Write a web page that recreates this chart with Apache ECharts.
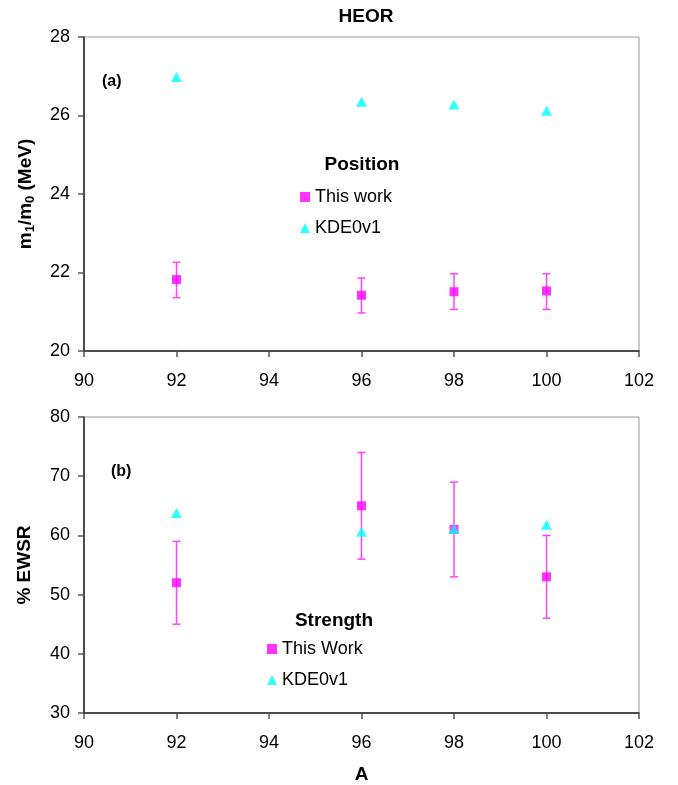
<!DOCTYPE html>
<html>
<head>
<meta charset="utf-8">
<script src="https://cdn.jsdelivr.net/npm/echarts@6/dist/echarts.min.js"></script>
<style>
  html, body { margin: 0; padding: 0; background: #fff; }
  #chart { width: 678px; height: 785px; }
</style>
</head>
<body>
<div id="chart"></div>
<script>
// mass numbers
var massA = [92, 96, 98, 100];
var xTicks = [90, 92, 94, 96, 98, 100, 102];

// (a) position m1/m0 (MeV)
var posThis = [21.82, 21.42, 21.51, 21.53];
var posLo = [21.36, 20.97, 21.06, 21.06];
var posHi = [22.26, 21.86, 21.97, 21.97];
var posKde = [26.98, 26.35, 26.28, 26.12];

// (b) strength % EWSR
var strThis = [52, 65, 61, 53];
var strLo = [45, 56, 53, 46];
var strHi = [59, 74, 69, 60];
var strKde = [63.8, 60.6, 61.1, 61.8];

var FONT = "Liberation Sans, Arial, sans-serif";
var MAG = "#ff00ff";
var CYAN = "#00ffff";

function pairs(xs, ys) {
  return xs.map(function (x, i) { return [x, ys[i]]; });
}
function errData(xs, lo, hi) {
  return xs.map(function (x, i) { return [x, lo[i], hi[i]]; });
}

function errorBars(params, api) {
  var x = api.value(0);
  var lo = api.coord([x, api.value(1)]);
  var hi = api.coord([x, api.value(2)]);
  var cap = 4;
  var style = { stroke: "#ff44ff", lineWidth: 1.5 };
  return {
    type: "group",
    children: [
      { type: "line", shape: { x1: lo[0], y1: lo[1], x2: hi[0], y2: hi[1] }, style: style },
      { type: "line", shape: { x1: lo[0] - cap, y1: lo[1], x2: lo[0] + cap, y2: lo[1] }, style: style },
      { type: "line", shape: { x1: hi[0] - cap, y1: hi[1], x2: hi[0] + cap, y2: hi[1] }, style: style }
    ]
  };
}

function xAxisFor(idx, showName) {
  return {
    type: "value",
    gridIndex: idx,
    min: 90, max: 102, interval: 2,
    splitLine: { show: false },
    axisLine: { onZero: false, lineStyle: { color: "#222", width: 1.5 } },
    axisTick: { inside: false, length: 6, lineStyle: { color: "#555", width: 1.5 } },
    axisLabel: { color: "#000", fontSize: 18, fontFamily: FONT, margin: 21 },
    name: showName ? "A" : "",
    nameLocation: "middle",
    nameGap: 52,
    nameTextStyle: { color: "#000", fontSize: 19, fontWeight: "bold", fontFamily: FONT }
  };
}

var chart = echarts.init(document.getElementById("chart"));

var option = {
  animation: false,
  backgroundColor: "#fff",
  title: [
    { text: "HEOR", left: 361, top: 2, textAlign: "center",
      textStyle: { fontSize: 19, fontWeight: "bold", fontFamily: FONT, color: "#000" } },
    { text: "Position", left: 357, top: 150, textAlign: "center",
      textStyle: { fontSize: 19, fontWeight: "bold", fontFamily: FONT, color: "#000" } },
    { text: "Strength", left: 329, top: 606, textAlign: "center",
      textStyle: { fontSize: 19, fontWeight: "bold", fontFamily: FONT, color: "#000" } },
    { text: "(a)", left: 97, top: 69,
      textStyle: { fontSize: 16, fontWeight: "bold", fontFamily: FONT, color: "#000" } },
    { text: "(b)", left: 106, top: 459,
      textStyle: { fontSize: 16, fontWeight: "bold", fontFamily: FONT, color: "#000" } }
  ],
  legend: [
    {
      left: 295, top: 183, orient: "vertical", itemGap: 13,
      itemWidth: 10, itemHeight: 10,
      textStyle: { fontSize: 18, fontFamily: FONT, color: "#000" },
      data: [{ name: "This work", icon: "rect" }, { name: "KDE0v1", icon: "triangle" }]
    },
    {
      left: 262, top: 635, orient: "vertical", itemGap: 13,
      itemWidth: 10, itemHeight: 10,
      textStyle: { fontSize: 18, fontFamily: FONT, color: "#000" },
      data: [{ name: "This Work", icon: "rect" }, { name: "KDE0v1", icon: "triangle" }]
    }
  ],
  grid: [
    { left: 84, right: 39, top: 37, height: 314, show: true, borderColor: "#999", borderWidth: 1 },
    { left: 84, right: 39, top: 417, height: 304, show: true, borderColor: "#999", borderWidth: 1 }
  ],
  xAxis: [xAxisFor(0, false), xAxisFor(1, true)],
  yAxis: [
    {
      type: "value", gridIndex: 0, min: 20, max: 28, interval: 2,
      splitLine: { show: false },
      axisLine: { show: true, lineStyle: { color: "#222", width: 1.5 } },
      axisTick: { show: true, length: 6, lineStyle: { color: "#555", width: 1.5 } },
      axisLabel: { color: "#000", fontSize: 18, fontFamily: FONT, margin: 14 },
      name: "{b|m}{s|1}{b|/m}{s|0}{b| (MeV)}",
      nameLocation: "middle", nameGap: 47, nameRotate: 90,
      nameTextStyle: {
        rich: {
          b: { fontSize: 19, fontWeight: "bold", fontFamily: FONT, color: "#000", lineHeight: 22 },
          s: { fontSize: 13, fontWeight: "bold", fontFamily: FONT, color: "#000", lineHeight: 22, verticalAlign: "bottom", padding: [8, 0, 0, 0] }
        }
      }
    },
    {
      type: "value", gridIndex: 1, min: 30, max: 80, interval: 10,
      splitLine: { show: false },
      axisLine: { show: true, lineStyle: { color: "#222", width: 1.5 } },
      axisTick: { show: true, length: 6, lineStyle: { color: "#555", width: 1.5 } },
      axisLabel: { color: "#000", fontSize: 18, fontFamily: FONT, margin: 14 },
      name: "% EWSR",
      nameLocation: "middle", nameGap: 50, nameRotate: 90,
      nameTextStyle: { fontSize: 19, fontWeight: "bold", fontFamily: FONT, color: "#000" }
    }
  ],
  series: [
    { type: "custom", xAxisIndex: 0, yAxisIndex: 0, renderItem: errorBars,
      data: errData(massA, posLo, posHi), z: 2, silent: true },
    { name: "This work", type: "scatter", xAxisIndex: 0, yAxisIndex: 0,
      symbol: "rect", symbolSize: 9, itemStyle: { color: MAG }, z: 3,
      data: pairs(massA, posThis) },
    { name: "KDE0v1", type: "scatter", xAxisIndex: 0, yAxisIndex: 0,
      symbol: "triangle", symbolSize: [11, 10], itemStyle: { color: CYAN }, z: 4,
      data: pairs(massA, posKde) },

    { type: "custom", xAxisIndex: 1, yAxisIndex: 1, renderItem: errorBars,
      data: errData(massA, strLo, strHi), z: 2, silent: true },
    { name: "This Work", type: "scatter", xAxisIndex: 1, yAxisIndex: 1,
      symbol: "rect", symbolSize: 9, itemStyle: { color: MAG }, z: 3,
      data: pairs(massA, strThis) },
    { name: "KDE0v1", type: "scatter", xAxisIndex: 1, yAxisIndex: 1,
      symbol: "triangle", symbolSize: [11, 10], itemStyle: { color: CYAN }, z: 4,
      data: pairs(massA, strKde) }
  ]
};

chart.setOption(option);
</script>
</body>
</html>
